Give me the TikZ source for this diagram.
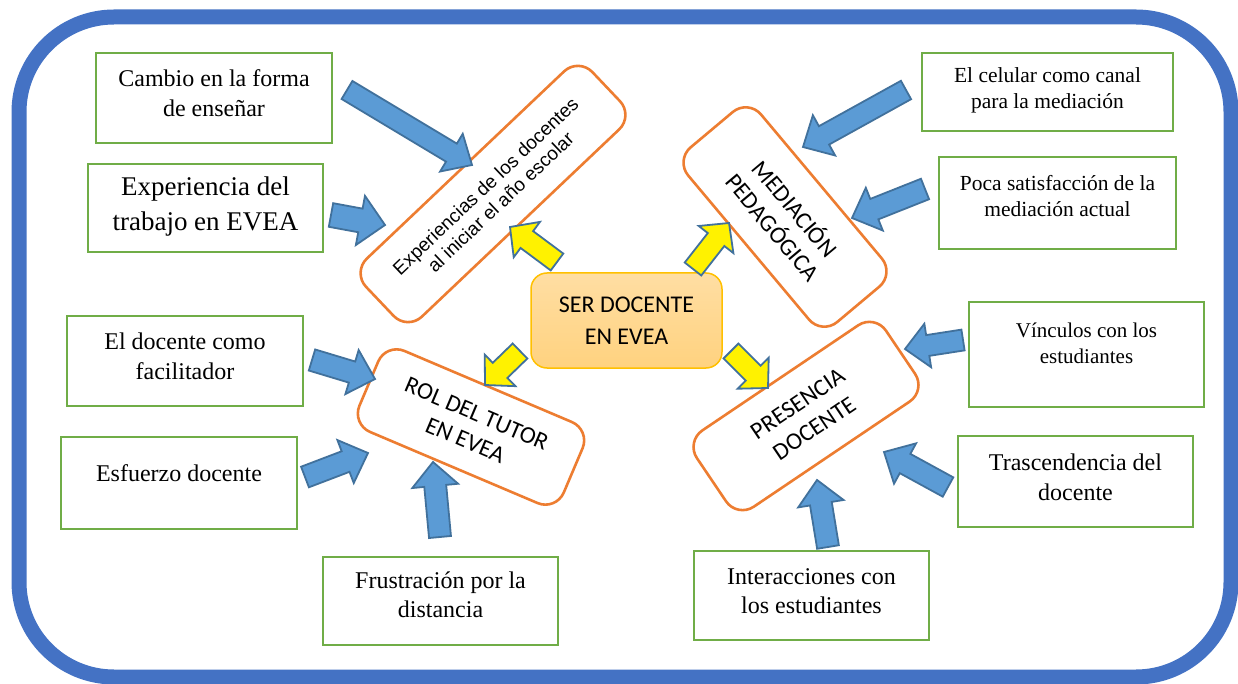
\documentclass[tikz,border=0pt]{standalone}
\usepackage{fontspec}
\setmainfont{Liberation Serif}
\newfontfamily\arialf{Liberation Sans}
\newfontfamily\calib{Carlito}
\usetikzlibrary{calc}
\definecolor{bordblue}{HTML}{4472C4}
\definecolor{grn}{HTML}{70AD47}
\definecolor{org}{HTML}{ED7D31}
\definecolor{arrblue}{HTML}{5B9BD5}
\definecolor{arredge}{HTML}{41719C}
\definecolor{ctop}{HTML}{FFDEA3}
\definecolor{cbot}{HTML}{FFD27F}
\definecolor{cedge}{HTML}{FFC000}
\newcommand\barrow[6]{% style, tail, tip, shaft half width, head half width, head length
  \coordinate (bak) at ($(#3)!#6!(#2)$);
  \draw[#1] ($(#2)!#4!90:(#3)$) -- ($(bak)!#4!90:(#3)$) -- ($(bak)!#5!90:(#3)$) -- (#3)
    -- ($(bak)!#5!-90:(#3)$) -- ($(bak)!#4!-90:(#3)$) -- ($(#2)!#4!-90:(#3)$) -- cycle;
}
\begin{document}
\begin{tikzpicture}[x=1pt,y=-1pt,
  gbox/.style={draw=grn, line width=2.4pt, fill=white, inner sep=0pt},
  gtext/.style={align=center, inner sep=0pt, font=\fontsize{24}{30}\selectfont},
  obox/.style={draw=org, line width=2.6pt, fill=white, rounded corners=20pt, align=center, inner sep=0pt},
  barr/.style={fill=arrblue, draw=arredge, line width=1.8pt, line join=miter},
  yarr/.style={fill=yellow, draw=arredge, line width=1.8pt, line join=miter}]
\useasboundingbox (0,0) rectangle (1238,684);
\fill[white] (0,0) rectangle (1238,684);
\draw[bordblue, line width=15pt, rounded corners=95pt] (19,17) rectangle (1231,677);

% green boxes
\node[gbox, minimum width=236pt, minimum height=90pt] (g1) at (214,98) {};
\node[gtext] (g1t) at (214,93) {Cambio en la forma\\de enseñar};
\node[gbox, minimum width=235pt, minimum height=88pt] (g2) at (205.5,208) {};
\node[gtext, font=\fontsize{27}{35}\selectfont] (g2t) at (205.5,207) {Experiencia del\\trabajo en EVEA};
\node[gbox, minimum width=251pt, minimum height=78pt] (g3) at (1047.5,92) {};
\node[gtext, font=\fontsize{21.5}{26}\selectfont] (g3t) at (1047.5,90) {El celular como canal\\para la mediación};
\node[gbox, minimum width=237pt, minimum height=92pt] (g4) at (1057.5,203) {};
\node[gtext, font=\fontsize{21.5}{26}\selectfont] (g4t) at (1057.5,196) {Poca satisfacción de la\\mediación actual};
\node[gbox, minimum width=236pt, minimum height=90pt] (g5) at (185,361) {};
\node[gtext] (g5t) at (185,356) {El docente como\\facilitador};
\node[gbox, minimum width=236pt, minimum height=92pt] (g6) at (179,483) {};
\node[gtext] (g6t) at (179,473) {Esfuerzo docente};
\node[gbox, minimum width=235pt, minimum height=88pt] (g7) at (440.5,601) {};
\node[gtext, font=\fontsize{24}{29}\selectfont] (g7t) at (440.5,595) {Frustración por la\\distancia};
\node[gbox, minimum width=235pt, minimum height=105pt] (g8) at (1086.5,354.5) {};
\node[gtext, font=\fontsize{21}{26}\selectfont] (g8t) at (1086.5,343) {Vínculos con los\\estudiantes};
\node[gbox, minimum width=235pt, minimum height=91pt] (g9) at (1075.5,481.5) {};
\node[gtext] (g9t) at (1075.5,477) {Trascendencia del\\docente};
\node[gbox, minimum width=235pt, minimum height=89pt] (g10) at (811.5,595.5) {};
\node[gtext, font=\fontsize{24}{29}\selectfont] (g10t) at (811.5,591) {Interacciones con\\los estudiantes};

% orange rotated boxes
\node[obox, minimum width=312pt, minimum height=80pt, rotate=43.5, font=\arialf\fontsize{19}{22}\selectfont] (ra) at (493,194) {Experiencias de los docentes\\al iniciar el año escolar};
\node[obox, minimum width=228pt, minimum height=95pt, rotate=-50, font=\calib\fontsize{24}{29}\selectfont] (rb) at (785,217) {MEDIACIÓN\\PEDAGÓGICA};
\node[obox, minimum width=222pt, minimum height=88pt, rotate=-23, font=\calib\fontsize{24}{29}\selectfont] (rc) at (471,427) {ROL DEL TUTOR\\EN EVEA};
\node[obox, minimum width=228pt, minimum height=92pt, rotate=34, font=\calib\fontsize{24}{30}\selectfont] (rd) at (806,416) {PRESENCIA\\DOCENTE};

% center box
\node[draw=cedge, line width=1.5pt, top color=ctop, bottom color=cbot, rounded corners=16pt,
  minimum width=191pt, minimum height=95pt, align=center, inner sep=0pt,
  font=\calib\fontsize{24}{32}\selectfont] (c) at (626.5,320.5) {SER DOCENTE\\EN EVEA};

% arrow coordinates
\coordinate (b1s) at (347,90);  \coordinate (b1e) at (472,165);
\coordinate (b2s) at (331,215); \coordinate (b2e) at (385,225);
\coordinate (b3s) at (906,90);  \coordinate (b3e) at (803,147);
\coordinate (b4s) at (925,189); \coordinate (b4e) at (852,218);
\coordinate (b5s) at (312,360); \coordinate (b5e) at (375,379);
\coordinate (b6s) at (305,477); \coordinate (b6e) at (368,453);
\coordinate (b7s) at (440,537); \coordinate (b7e) at (433,462);
\coordinate (b8s) at (963,340); \coordinate (b8e) at (905,349);
\coordinate (b9s) at (948,487); \coordinate (b9e) at (884,452);
\coordinate (b10s) at (828,547); \coordinate (b10e) at (817,480);
\coordinate (y1s) at (557,262); \coordinate (y1e) at (510,227);
\coordinate (y2s) at (693,269); \coordinate (y2e) at (729,223);
\coordinate (y3s) at (520,351); \coordinate (y3e) at (485,385);
\coordinate (y4s) at (731,351); \coordinate (y4e) at (768,388);

\barrow{barr}{b1s}{b1e}{10.5pt}{22pt}{24pt}
\barrow{barr}{b2s}{b2e}{12pt}{25pt}{25pt}
\barrow{barr}{b3s}{b3e}{10.5pt}{23pt}{24pt}
\barrow{barr}{b4s}{b4e}{11pt}{23pt}{24pt}
\barrow{barr}{b5s}{b5e}{11pt}{23pt}{24pt}
\barrow{barr}{b6s}{b6e}{11pt}{23pt}{24pt}
\barrow{barr}{b7s}{b7e}{11pt}{23pt}{24pt}
\barrow{barr}{b8s}{b8e}{10.5pt}{22pt}{23pt}
\barrow{barr}{b9s}{b9e}{11pt}{23pt}{24pt}
\barrow{barr}{b10s}{b10e}{11pt}{23pt}{24pt}
\barrow{yarr}{y1s}{y1e}{10.5pt}{22pt}{21pt}
\barrow{yarr}{y2s}{y2e}{10.5pt}{22pt}{21pt}
\barrow{yarr}{y3s}{y3e}{10.5pt}{22pt}{21pt}
\barrow{yarr}{y4s}{y4e}{10.5pt}{22pt}{21pt}
\end{tikzpicture}
\end{document}
